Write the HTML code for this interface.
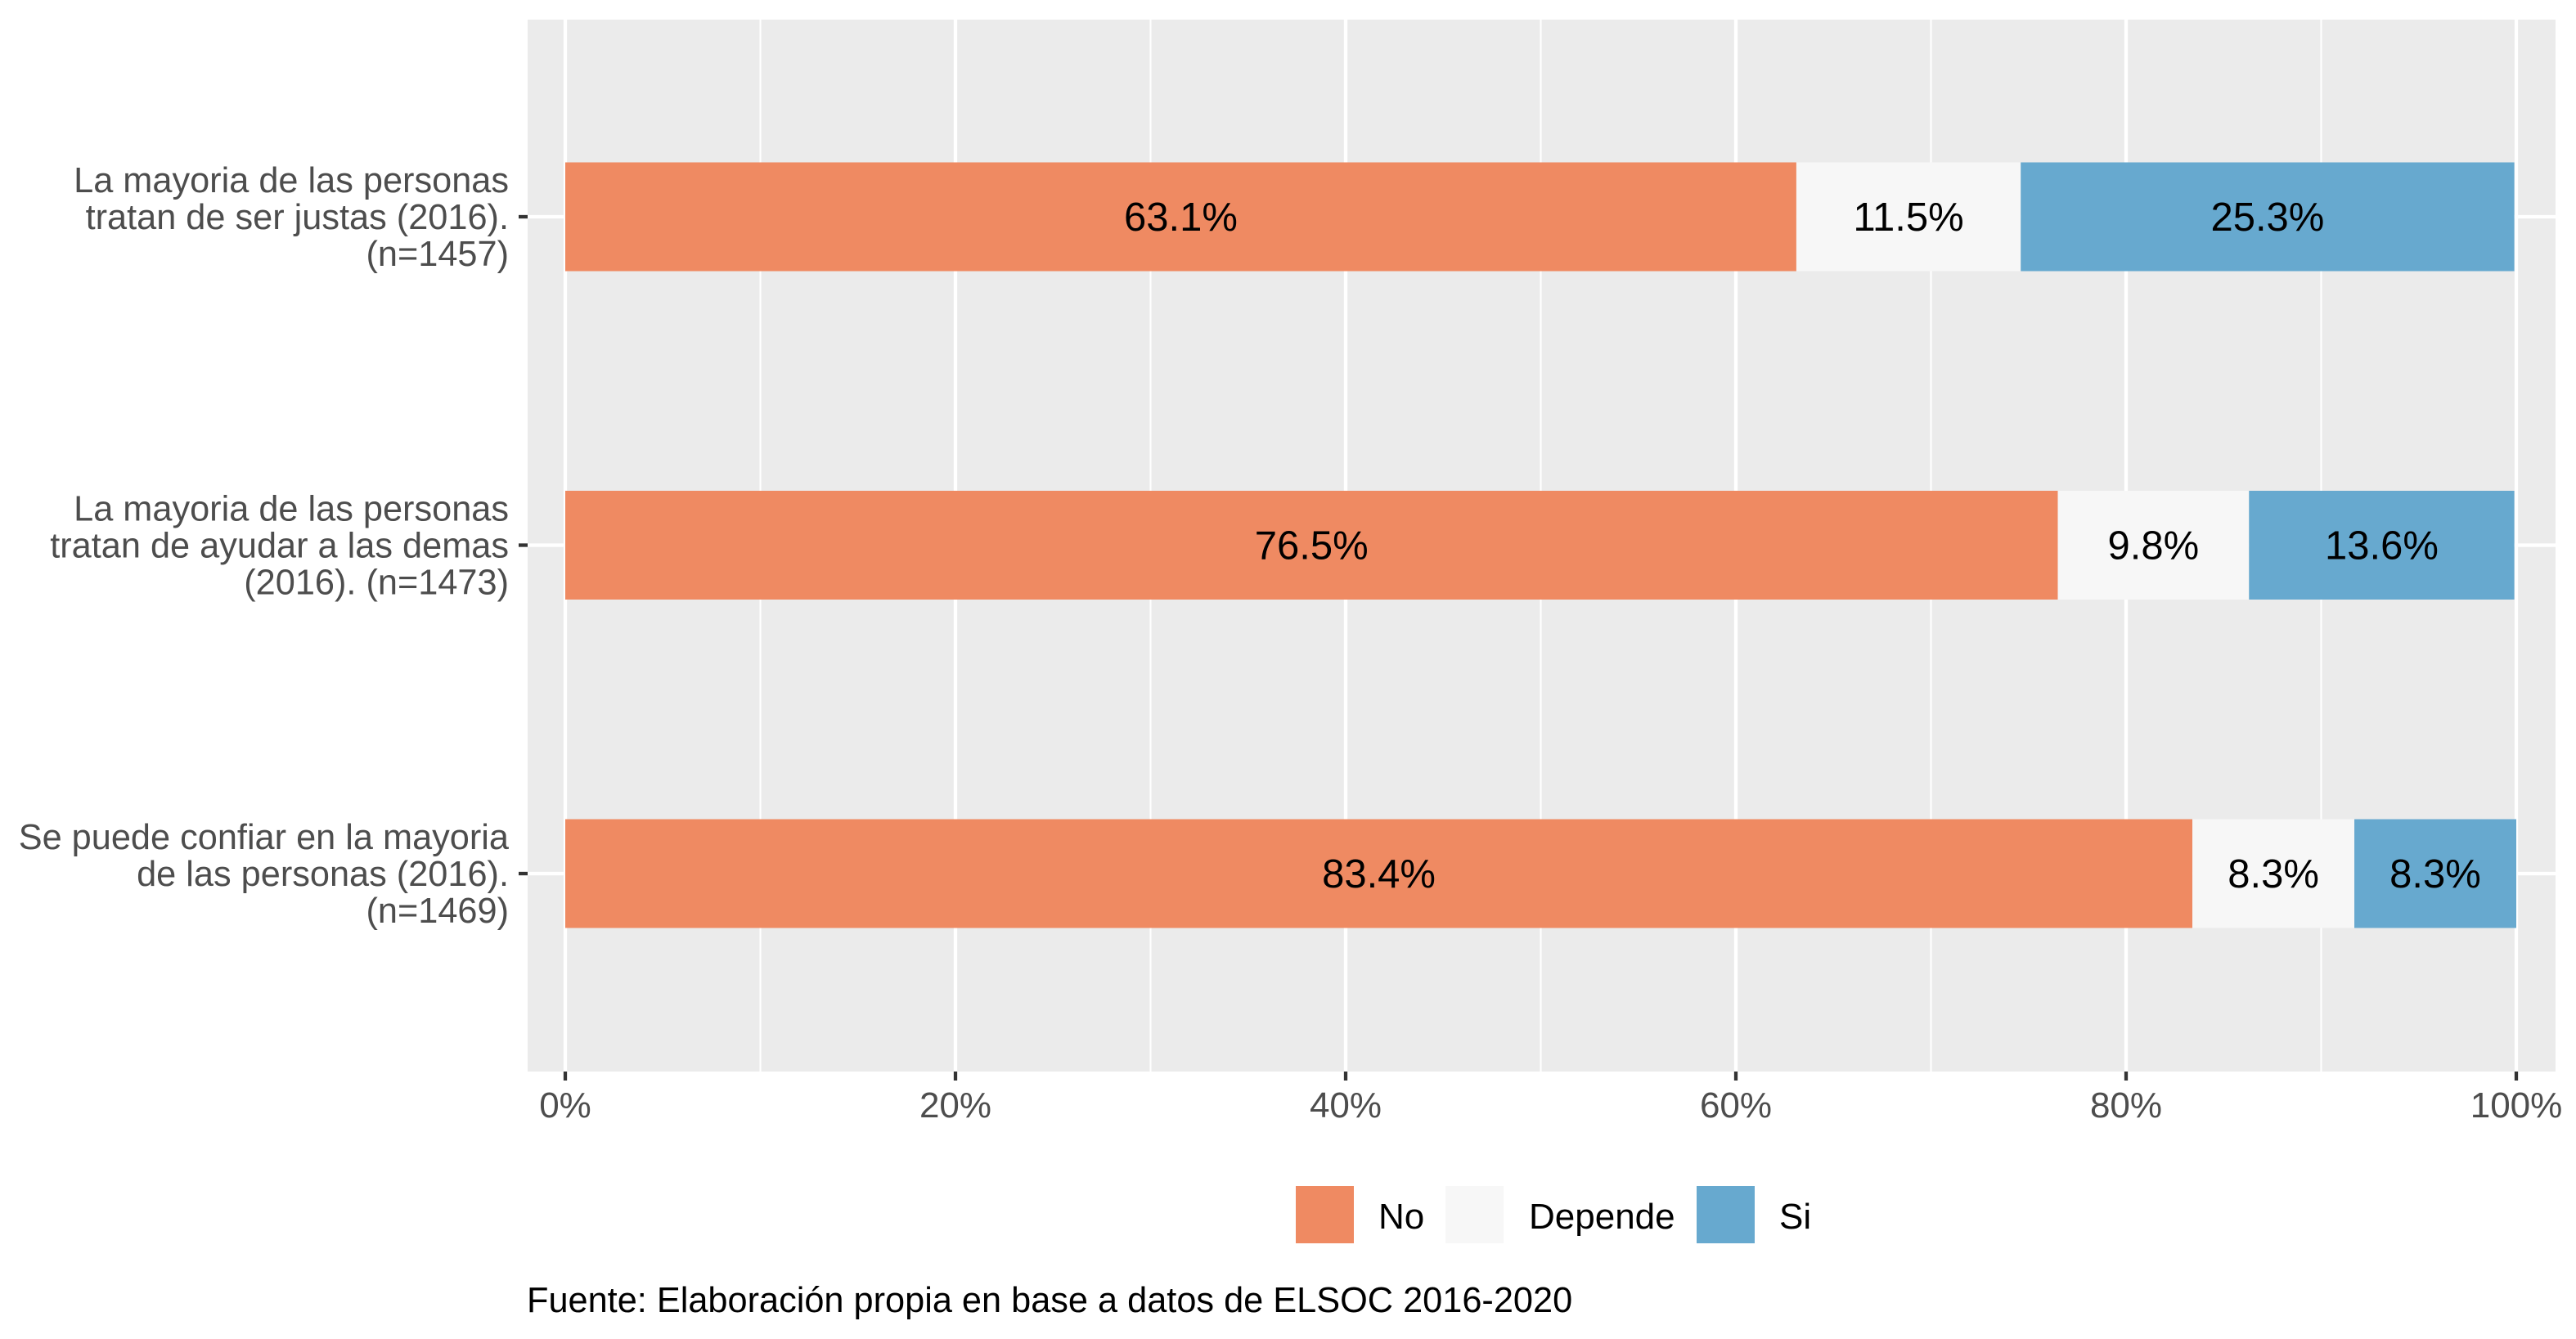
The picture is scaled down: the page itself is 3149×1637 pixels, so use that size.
<!DOCTYPE html>
<html><head><meta charset="utf-8"><style>
html,body{margin:0;padding:0;background:#fff;}
svg{display:block;font-family:"Liberation Sans",Arial,sans-serif;}
</style></head><body>
<svg id="chart" width="3149" height="1637" viewBox="0 0 3149 1637" xmlns="http://www.w3.org/2000/svg">
<rect x="645" y="24" width="2479" height="1286" fill="#ebebeb"/>
<g id="grid"></g><g id="bars"></g><g id="axes"></g>
<g>
<rect x="1584" y="1450" width="71" height="70" fill="#ef8a62"/>
<text x="1685" y="1502" font-size="44" fill="#000">No</text>
<rect x="1767" y="1450" width="71" height="70" fill="#f7f7f7"/>
<text x="1869" y="1502" font-size="44" fill="#000">Depende</text>
<rect x="2074" y="1450" width="71" height="70" fill="#67a9cf"/>
<text x="2175" y="1502" font-size="44" fill="#000">Si</text>
</g>
<text x="644" y="1604" font-size="43.3" fill="#000">Fuente: Elaboración propia en base a datos de ELSOC 2016-2020</text>
</svg>
<script>
const categories = [
 ["La mayoria de las personas","tratan de ser justas (2016).","(n=1457)"],
 ["La mayoria de las personas","tratan de ayudar a las demas","(2016). (n=1473)"],
 ["Se puede confiar en la mayoria","de las personas (2016).","(n=1469)"]
];
const seriesNames = ["No","Depende","Si"];
const noValues = [63.1, 76.5, 83.4];
const dependeValues = [11.5, 9.8, 8.3];
const siValues = [25.3, 13.6, 8.3];
const xTicks = [0,20,40,60,80,100];
const xTickLabels = ["0%","20%","40%","60%","80%","100%"];
const colors = ["#ef8a62","#f7f7f7","#67a9cf"];
const NS="http://www.w3.org/2000/svg";
const x0=691, x1=3076;
const xs=v=>x0+(x1-x0)*v/100;
const ys=i=>265+i*401.5;
const barH=133;
function mk(tag,attrs,parent){const e=document.createElementNS(NS,tag);for(const k in attrs)e.setAttribute(k,attrs[k]);parent.appendChild(e);return e;}
const grid=document.getElementById('grid'), bars=document.getElementById('bars'), axes=document.getElementById('axes');
for(let v=10;v<100;v+=20){const l=mk('line',{x1:xs(v),x2:xs(v),y1:24,y2:1310,stroke:'#fff','stroke-width':2.1},grid);

}
xTicks.forEach((v,i)=>{const l=mk('line',{x1:xs(v),x2:xs(v),y1:24,y2:1310,stroke:'#fff','stroke-width':4.3},grid);


const t=mk('line',{x1:xs(v),x2:xs(v),y1:1310,y2:1321,stroke:'#333','stroke-width':4.3},axes);


const tx=mk('text',{x:xs(v),y:1366,'font-size':44,fill:'#4d4d4d','text-anchor':'middle'},axes);
tx.textContent=xTickLabels[i];

});
const all=[noValues,dependeValues,siValues];
categories.forEach((lines,i)=>{
 const y=ys(i);
 const g=mk('line',{x1:645,x2:3124,y1:y,y2:y,stroke:'#fff','stroke-width':4.3},grid);
 
 
 let acc=0;
 all.forEach((arr,s)=>{
  const v=arr[i];
  const r=mk('rect',{x:xs(acc),y:y-barH/2,width:xs(acc+v)-xs(acc),height:barH,fill:colors[s]},bars);
  
  
  const t=mk('text',{x:xs(acc+v/2),y:y+17,'font-size':49,fill:'#000','text-anchor':'middle'},bars);
  t.textContent=v.toFixed(1)+'%';
  
  
  acc+=v;
 });
 const tk=mk('line',{x1:634,x2:645,y1:y,y2:y,stroke:'#333','stroke-width':4.3},axes);
 
 
 lines.forEach((ln,j)=>{
  const t=mk('text',{x:622,y:y+15+(j-1)*45,'font-size':43.3,fill:'#4d4d4d','text-anchor':'end'},axes);
  t.textContent=ln;
  
  
 });
});
</script>
</body></html>
